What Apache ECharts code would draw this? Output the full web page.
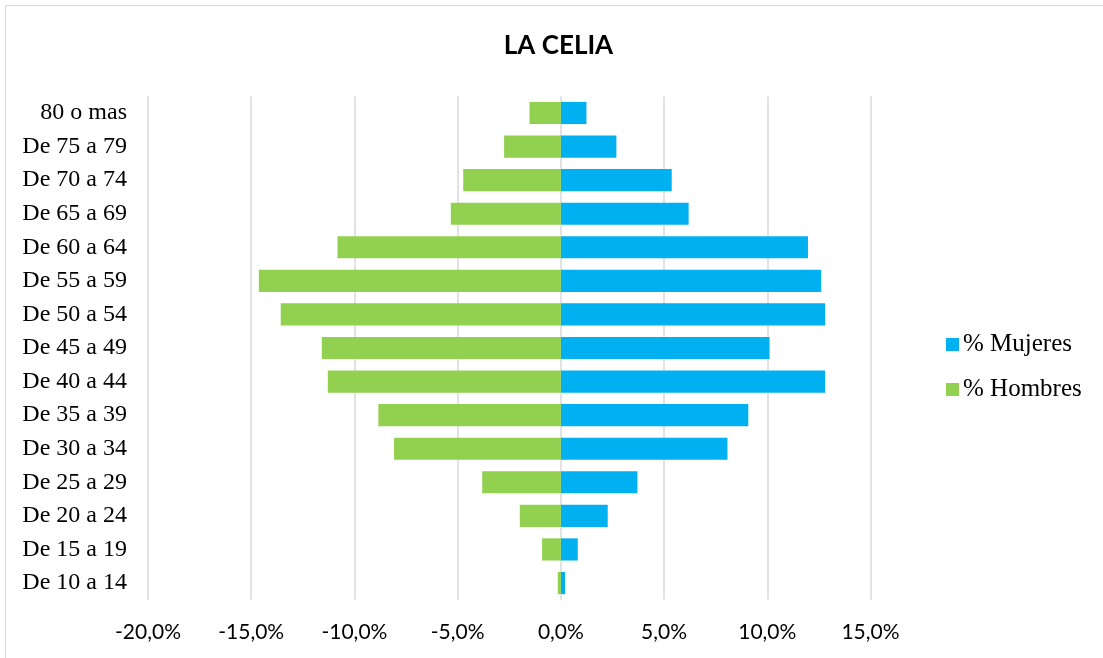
<!DOCTYPE html>
<html>
<head>
<meta charset="utf-8">
<script src="https://cdn.jsdelivr.net/npm/echarts@6/dist/echarts.min.js"></script>
<style>
html,body{margin:0;padding:0;background:#fff;}
#frame{position:absolute;left:5px;top:5px;width:1110px;height:670px;border:1px solid #d9d9d9;box-sizing:border-box;}
#chart{position:absolute;left:0;top:0;width:1103px;height:658px;}
</style>
</head>
<body>
<div id="frame"></div>
<div id="chart"></div>
<script>
const title = 'LA CELIA';
const categories = ['80 o mas','De 75 a 79','De 70 a 74','De 65 a 69','De 60 a 64','De 55 a 59','De 50 a 54','De 45 a 49','De 40 a 44','De 35 a 39','De 30 a 34','De 25 a 29','De 20 a 24','De 15 a 19','De 10 a 14'];
const seriesNames = ['% Mujeres','% Hombres'];
const mujeres = [1.24, 2.69, 5.37, 6.19, 11.97, 12.61, 12.80, 10.11, 12.80, 9.08, 8.07, 3.71, 2.27, 0.82, 0.20];
const hombres = [-1.52, -2.75, -4.73, -5.33, -10.82, -14.63, -13.57, -11.58, -11.29, -8.84, -8.08, -3.81, -1.99, -0.91, -0.15];
const xTicks = {min: -20, max: 15, interval: 5};

const chart = echarts.init(document.getElementById('chart'), null, {renderer: 'canvas'});
chart.setOption({
  animation: false,
  backgroundColor: 'transparent',
  graphic: [{
    type: 'text', x: 558.5, y: 46,
    style: {text: title, fontFamily: 'Lato', fontWeight: 'bold', fontSize: 26, fill: '#000',
            textAlign: 'center', textVerticalAlign: 'middle'}
  }],
  legend: {
    orient: 'vertical', left: 941, top: 327,
    itemWidth: 13, itemHeight: 13, itemGap: 20,
    icon: 'rect',
    textStyle: {fontFamily: 'Liberation Serif', fontSize: 25, color: '#000', padding: [0,0,0,-1]},
    data: seriesNames
  },
  grid: {left: 148, right: 232.5, top: 96.2, bottom: 58.2, containLabel: false},
  xAxis: {
    type: 'value', min: xTicks.min, max: xTicks.max, interval: xTicks.interval,
    axisLine: {show: false}, axisTick: {show: false},
    splitLine: {show: true, lineStyle: {color: '#d9d9d9', width: 1.5}},
    axisLabel: {
      margin: 22, fontFamily: 'Lato', fontSize: 21, color: '#000',
      formatter: v => (Math.abs(v) < 1e-9 ? 0 : v).toFixed(1).replace('.', ',') + '%'
    }
  },
  yAxis: {
    type: 'category', data: categories, inverse: true,
    axisLine: {show: false}, axisTick: {show: false},
    axisLabel: {margin: 21, fontFamily: 'Liberation Serif', fontSize: 24, color: '#000'}
  },
  series: [
    {name: seriesNames[0], type: 'bar', data: mujeres, barGap: '-100%', barCategoryGap: '34%',
     itemStyle: {color: '#00B0F0'}},
    {name: seriesNames[1], type: 'bar', data: hombres, barGap: '-100%', barCategoryGap: '34%',
     itemStyle: {color: '#92D050'}}
  ]
});
</script>
</body>
</html>
